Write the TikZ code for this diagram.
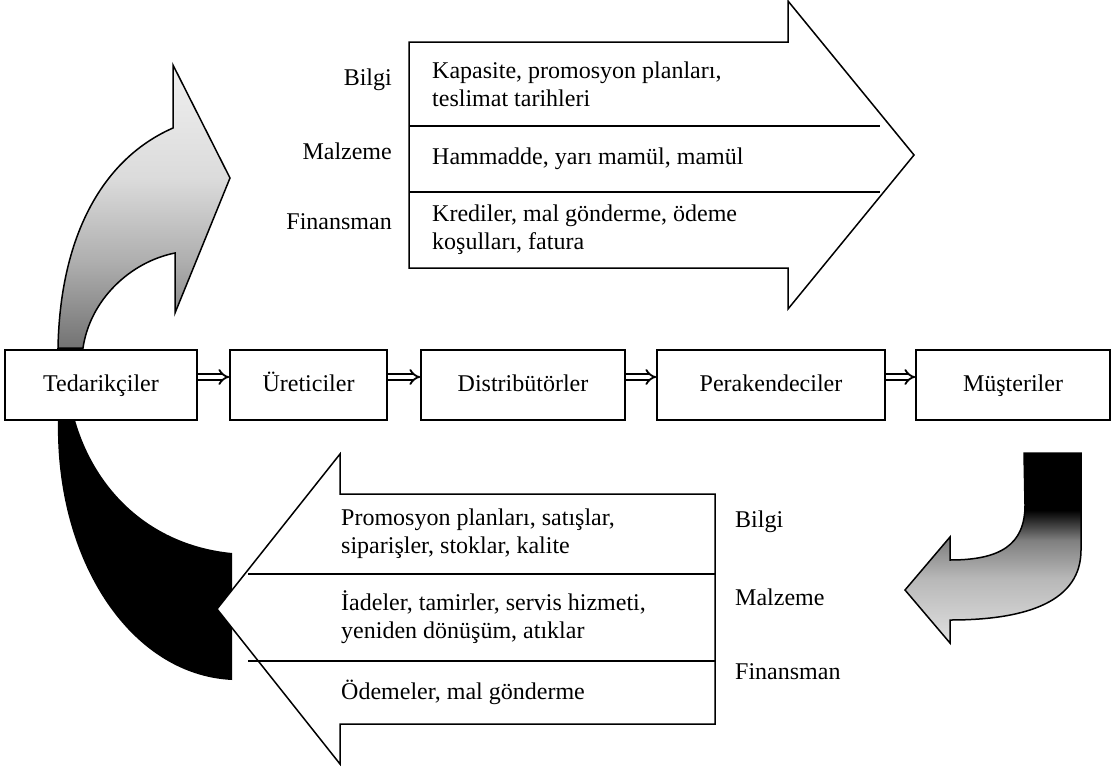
\documentclass[tikz,border=0pt]{standalone}
\usepackage{fontspec}
\setmainfont{Liberation Serif}
\usetikzlibrary{arrows.meta}
\pgfdeclareverticalshading{gsh}{100bp}{color(0bp)=(black!55); color(25bp)=(black!55); color(40bp)=(black!32); color(55bp)=(black!14); color(75bp)=(black!6); color(100bp)=(black!6)}
\pgfdeclareverticalshading{jsh}{100bp}{color(0bp)=(black!12); color(25bp)=(black!12); color(42bp)=(black!28); color(52bp)=(black!50); color(60bp)=(black); color(100bp)=(black)}
\begin{document}
\begin{tikzpicture}[x=1pt,y=-1pt, line join=miter,
  outl/.style={draw=black, line width=1.5pt},
  flowbox/.style={draw, fill=white, line width=1.5pt, minimum height=70pt, inner sep=0pt, text height=17pt, text depth=5pt, font=\fontsize{24}{28}\selectfont},
  lbl/.style={font=\fontsize{24}{28}\selectfont, inner sep=0pt},
  cell/.style={font=\fontsize{24}{28}\selectfont, inner sep=0pt, align=left, anchor=west},
  flow/.style={double, double distance=3.5pt, line width=1.8pt, -{Implies[scale=1.5]}}
]
\useasboundingbox[fill=white] (0,0) rectangle (1118,771);

% curved arrows
\shade[shading=gsh, draw, line width=1.5pt] (58,348) .. controls (60,240) and (100,160) .. (173,128) -- (173,65) -- (230,178) -- (175,313) -- (175,253) .. controls (130,262) and (90,300) .. (83,348) -- cycle;
\fill[black] (58,420) .. controls (55,560) and (130,675) .. (232,680) -- (232,553) .. controls (150,545) and (95,490) .. (75,420) -- cycle;
\shade[shading=jsh, draw, line width=1.5pt] (1024,453) -- (1081,453) -- (1081,550) .. controls (1081,600) and (1030,620) .. (950,620) -- (950,643) -- (905,590) -- (950,537) -- (950,560) .. controls (1000,560) and (1025,545) .. (1025,505) -- cycle;

% top big arrow
\draw[outl, fill=white] (409,42) -- (788,42) -- (788,1) -- (914,155) -- (788,309) -- (788,268) -- (409,268) -- cycle;
\draw[outl] (409,126) -- (880,126);
\draw[outl] (409,192) -- (880,192);
\node[cell] (t1) at (432,84) {Kapasite, promosyon planları,\\teslimat tarihleri};
\node[cell] (t2) at (432,159) {Hammadde, yarı mamül, mamül};
\node[cell] (t3) at (432,230) {Krediler, mal gönderme, ödeme\\koşulları, fatura};
\node[lbl, anchor=east] (tl1) at (392,80) {Bilgi};
\node[lbl, anchor=east] (tl2) at (392,151) {Malzeme};
\node[lbl, anchor=east] (tl3) at (392,222) {Finansman};

% bottom big arrow
\draw[outl, fill=white] (715,494) -- (340,494) -- (340,454) -- (217,609) -- (340,764) -- (340,724) -- (715,724) -- cycle;
\draw[outl] (248,574) -- (715,574);
\draw[outl] (248,661) -- (715,661);
\node[cell] (b1) at (341,534) {Promosyon planları, satışlar,\\siparişler, stoklar, kalite};
\node[cell] (b2) at (341,617) {İadeler, tamirler, servis hizmeti,\\yeniden dönüşüm, atıklar};
\node[cell] (b3) at (341,692) {Ödemeler, mal gönderme};
\node[lbl, anchor=west] (bl1) at (735,522) {Bilgi};
\node[lbl, anchor=west] (bl2) at (735,597) {Malzeme};
\node[lbl, anchor=west] (bl3) at (735,672) {Finansman};

% chain boxes
\node[flowbox, minimum width=192pt] (ted) at (101,385) {Tedarikçiler};
\node[flowbox, minimum width=157pt] (ure) at (308.5,385) {Üreticiler};
\node[flowbox, minimum width=204pt] (dis) at (523,385) {Distribütörler};
\node[flowbox, minimum width=228pt] (per) at (771,385) {Perakendeciler};
\node[flowbox, minimum width=194pt] (mus) at (1013,385) {Müşteriler};

\draw[flow] ([yshift=8pt]ted.east) -- ([yshift=8pt]ure.west);
\draw[flow] ([yshift=8pt]ure.east) -- ([yshift=8pt]dis.west);
\draw[flow] ([yshift=8pt]dis.east) -- ([yshift=8pt]per.west);
\draw[flow] ([yshift=8pt]per.east) -- ([yshift=8pt]mus.west);
\end{tikzpicture}
\end{document}
